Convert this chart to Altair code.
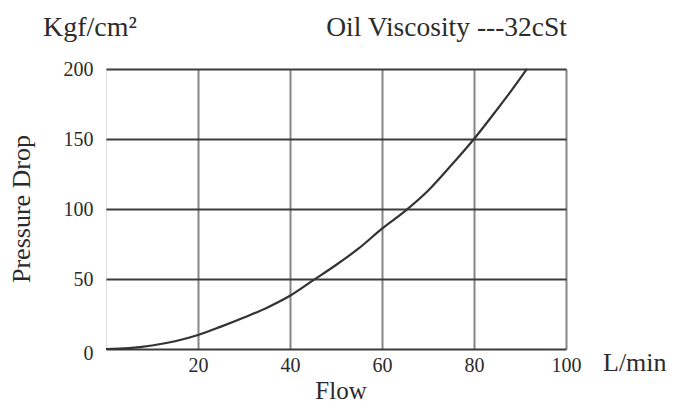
import altair as alt
import pandas as pd

flow = [0, 5, 10, 15, 20, 25, 30, 35, 40, 45, 50, 55, 60, 65, 70, 75, 80, 85, 88, 91.5]
pressure = [0, 0.6, 2.5, 5.5, 10, 16, 22.5, 29.5, 38, 49, 60, 72, 86, 98.5, 113, 131, 150, 171, 184, 200]
x_ticks = [20, 40, 60, 80, 100]
y_ticks = [0, 50, 100, 150, 200]

df = pd.DataFrame({"flow": flow, "pressure": pressure})

FONT = "Liberation Serif"
INK = "#2b2b2b"

W, H = 460, 280

x_scale = alt.Scale(domain=[0, 100], nice=False)
y_scale = alt.Scale(domain=[0, 200], nice=False)

curve = alt.Chart(df).mark_line(color="#333333", strokeWidth=2.2, interpolate="monotone").encode(
    x=alt.X("flow:Q", scale=x_scale,
            axis=alt.Axis(values=x_ticks, title=None, grid=True, gridColor="#858585", gridWidth=2,
                          domain=False, ticks=False, labelFont=FONT, labelFontSize=20,
                          labelColor=INK, labelPadding=6, labelFlush=False)),
    y=alt.Y("pressure:Q", scale=y_scale,
            axis=alt.Axis(values=y_ticks, title=None, grid=True, gridColor="#3c3c3c", gridWidth=2,
                          domain=False, ticks=False, labelFont=FONT, labelFontSize=20,
                          labelColor=INK, labelPadding=13,
                          labelOffset=alt.ExprRef(expr="datum.value == 0 ? 4 : 0"))),
)


def txt(label, x, y, size=26, align="left", baseline="alphabetic", angle=0):
    kw = dict(font=FONT, fontSize=size, color=INK, align=align, baseline=baseline)
    if angle:
        kw["angle"] = angle
    return alt.Chart(pd.DataFrame({"t": [label]})).mark_text(**kw).encode(
        text="t:N", x=alt.value(x), y=alt.value(y))


t1 = txt("Kgf/cm²", -63, -33, size=28)
t2 = txt("Oil Viscosity ---32cSt", 461, -33, size=27.5, align="right")
t3 = txt("Flow", 235, 330, size=25, align="center")
t4 = txt("L/min", 497, 302)
t5 = txt("Pressure Drop", -76, 140, align="center", angle=270)

chart = alt.layer(curve, t1, t2, t3, t4, t5).properties(
    width=W, height=H,
    autosize=alt.AutoSizeParams(type="none"),
    padding={"left": 98, "top": 61, "right": 101, "bottom": 57},
).configure_view(stroke="#333333", strokeWidth=2.2).configure(background="white")

chart.save("out.html", embed_options={"renderer": "svg", "actions": False})
